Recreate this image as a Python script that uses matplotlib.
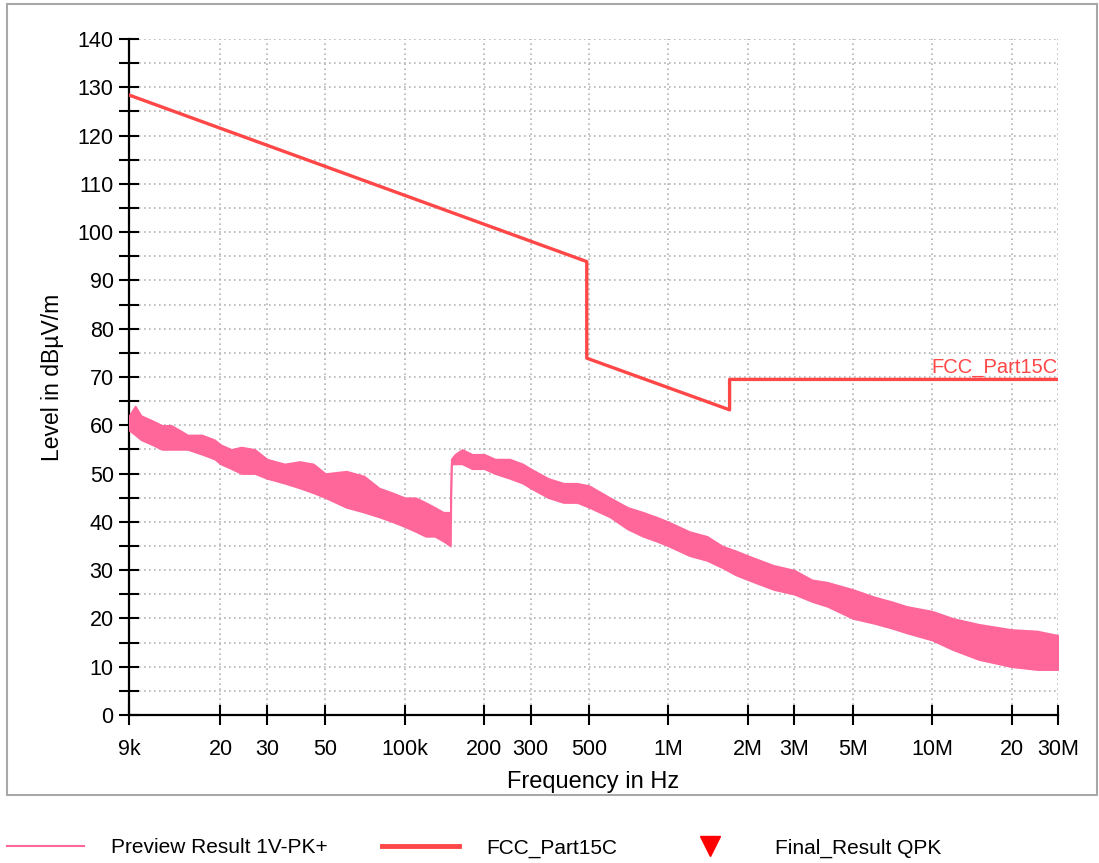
import numpy as np
import matplotlib
matplotlib.use("Agg")
import matplotlib.pyplot as plt
from matplotlib.lines import Line2D
from matplotlib.patches import Rectangle
from matplotlib.ticker import FixedLocator, NullLocator

plt.rcParams['font.family'] = ['Liberation Sans', 'DejaVu Sans']

freq_khz = [9, 9.5, 10, 11, 12, 13, 14, 15, 17, 19,
            20, 22, 24, 27, 30, 35, 40, 45, 50, 60,
            70, 80, 90, 100, 110, 120, 130, 140, 149, 150,
            155, 165, 180, 200, 220, 250, 280, 300, 350, 400,
            450, 500, 600, 700, 800, 900, 1000, 1200, 1400, 1600,
            1800, 2000, 2500, 3000, 3500, 4000, 5000, 6000, 7000, 8000,
            10000, 12000, 15000, 20000, 25000, 30000]
preview_upper = [62, 64, 62, 61, 60, 60, 59, 58, 58, 57,
                 56, 55, 55.5, 55, 53, 52, 52.5, 52, 50, 50.5,
                 49.5, 47, 46, 45, 45, 44, 43, 42, 42, 53,
                 54, 55, 54, 54, 53, 53, 52, 51, 49, 48,
                 48, 47.5, 45, 43, 42, 41, 40, 38, 37, 35,
                 34, 33, 31, 30, 28, 27.5, 26, 24.5, 23.5, 22.5,
                 21.5, 20, 18.8, 17.7, 17.4, 16.5]
preview_lower = [59, 58, 57, 56, 55, 55, 55, 55, 54, 53,
                 52, 51, 50, 50, 49, 48, 47, 46, 45, 43,
                 42, 41, 40, 39, 38, 37, 37, 36, 35, 52,
                 52, 52, 51, 51, 50, 49, 48, 47, 45, 44,
                 44, 43, 41, 38.5, 37, 36, 35, 33, 32, 30.5,
                 29, 28, 26, 25, 23.5, 22.5, 20, 19, 18, 17,
                 15.5, 13.5, 11.5, 10, 9.4, 9.4]

# FCC Part 15C limit
limit_freq = [9e3, 490e3, 490e3, 1.705e6, 1.705e6, 30e6]
limit_level = [128.4, 93.9, 73.9, 63.2, 69.5, 69.5]

xtick_vals = [9e3, 20e3, 30e3, 50e3, 100e3, 200e3, 300e3, 500e3,
              1e6, 2e6, 3e6, 5e6, 10e6, 20e6, 30e6]
xtick_labels = ["9k", "20", "30", "50", "100k", "200", "300", "500",
                "1M", "2M", "3M", "5M", "10M", "20", "30M"]

pink = "#ff6699"
red = "#ff4747"

W, H = 1099, 863
fig = plt.figure(figsize=(W / 100, H / 100), dpi=100)
ax = fig.add_axes([129 / W, 1 - 715 / H, (1058 - 129) / W, (715 - 39) / H])

f_hz = np.array(freq_khz) * 1e3
ax.fill_between(f_hz, preview_lower, preview_upper, color=pink,
                edgecolor=pink, linewidth=1.2, zorder=3)
ax.plot(limit_freq, limit_level, color=red, lw=2.4, zorder=4)
ax.text(30e6, 69.9, "FCC_Part15C", color=red, fontsize=14.5,
        ha="right", va="bottom", zorder=5)

ax.set_xscale("log")
ax.set_xlim(9e3, 30e6)
ax.set_ylim(0, 140)
ax.xaxis.set_major_locator(FixedLocator(xtick_vals))
ax.xaxis.set_minor_locator(NullLocator())
ax.set_xticklabels(xtick_labels)
ax.set_yticks(np.arange(0, 141, 10))
ax.set_yticks(np.arange(5, 140, 10), minor=True)

ax.grid(True, which="both", color="#b4b4b4", linestyle=(0, (1, 2)), lw=1.2)
for s in ["top", "right"]:
    ax.spines[s].set_visible(False)
for s in ["left", "bottom"]:
    ax.spines[s].set_linewidth(1.6)
ax.tick_params(axis="both", which="both", direction="inout", length=14,
               width=1.5, labelsize=15.5)
ax.tick_params(axis="x", pad=10)
ax.tick_params(axis="y", pad=4)

ax.set_ylabel("Level in dBµV/m", fontsize=16.5, labelpad=10)
ax.set_xlabel("Frequency in Hz", fontsize=17, labelpad=8)

# outer frame
fig.add_artist(Rectangle((7 / W, 1 - 795 / H), (1097 - 7) / W, (795 - 4) / H,
                         transform=fig.transFigure, fill=False,
                         edgecolor="#a8a8a8", lw=1.5))

handles = [Line2D([], [], color=pink, lw=1.5),
           Line2D([], [], color=red, lw=3.5),
           Line2D([], [], color="red", marker="v", markersize=14, ls="none")]
fig.legend(handles, ["Preview Result 1V-PK+", "FCC_Part15C", "Final_Result QPK"],
           loc="center left", bbox_to_anchor=(7 / W, 1 - 848 / H), ncol=3,
           frameon=False, fontsize=15, handlelength=3.7, handletextpad=1.3,
           columnspacing=2.6, borderpad=0, borderaxespad=0)

fig.savefig("out.png", dpi=100)
